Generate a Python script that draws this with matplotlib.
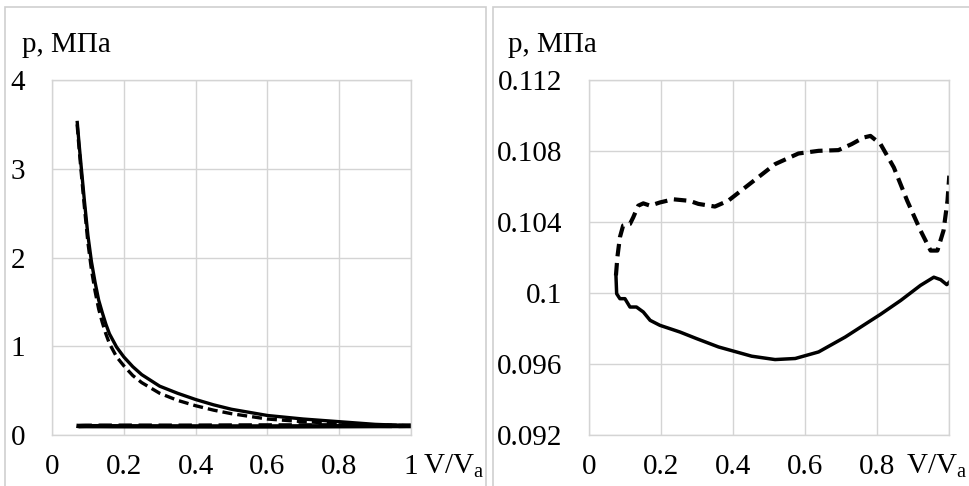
import matplotlib
matplotlib.use("Agg")
import matplotlib.pyplot as plt
from matplotlib.patches import Rectangle

plt.rcParams['font.family'] = ['Liberation Serif', 'DejaVu Serif']
plt.rcParams['mathtext.fontset'] = 'custom'
plt.rcParams['mathtext.rm'] = 'Liberation Serif'
plt.rcParams['mathtext.it'] = 'Liberation Serif:italic'

# ---- Left panel: full cycle (MPa) ----
v_high = [0.07, 0.075, 0.08, 0.09, 0.10, 0.11, 0.12, 0.13, 0.14, 0.15, 0.16, 0.18,
          0.20, 0.225, 0.25, 0.30, 0.35, 0.40, 0.45, 0.50, 0.60, 0.70, 0.80, 0.90, 1.00]
p_high_solid = [3.54, 3.30, 3.08, 2.65, 2.25, 1.95, 1.72, 1.52, 1.38, 1.25, 1.14, 0.99,
                0.88, 0.77, 0.68, 0.55, 0.47, 0.40, 0.34, 0.29, 0.22, 0.18, 0.15, 0.12, 0.105]
p_high_dashed = [3.50, 3.25, 3.02, 2.58, 2.17, 1.86, 1.62, 1.42, 1.27, 1.14, 1.03, 0.88,
                 0.78, 0.67, 0.59, 0.47, 0.39, 0.33, 0.28, 0.24, 0.18, 0.15, 0.13, 0.115, 0.105]

# ---- Right panel: low-pressure part (MPa) ----
v_low_dashed = [0.074, 0.078, 0.085, 0.094, 0.113, 0.122, 0.136, 0.150, 0.169, 0.196,
                0.233, 0.279, 0.303, 0.349, 0.386, 0.451, 0.516, 0.581, 0.637, 0.692,
                0.729, 0.762, 0.781, 0.809, 0.846, 0.883, 0.920, 0.948, 0.967, 0.984,
                0.995, 1.000]
p_low_dashed = [0.10099, 0.10202, 0.10314, 0.10380, 0.10389, 0.10426, 0.10492, 0.10505,
                0.10492, 0.10510, 0.10528, 0.10519, 0.10502, 0.10487, 0.10520, 0.10623,
                0.10726, 0.10786, 0.10801, 0.10805, 0.10839, 0.10876, 0.10885, 0.10839,
                0.10707, 0.10520, 0.10352, 0.10239, 0.10239, 0.10352, 0.10520, 0.10661]

v_low_solid = [0.074, 0.076, 0.085, 0.099, 0.113, 0.131, 0.150, 0.169, 0.196, 0.252,
               0.298, 0.359, 0.451, 0.516, 0.572, 0.637, 0.711, 0.776, 0.809, 0.865,
               0.920, 0.957, 0.976, 0.993, 1.000]
p_low_solid = [0.10099, 0.09996, 0.09968, 0.09968, 0.09921, 0.09921, 0.09893, 0.09846,
               0.09818, 0.09780, 0.09743, 0.09696, 0.09644, 0.09625, 0.09631, 0.09668,
               0.09752, 0.09837, 0.09880, 0.09958, 0.10043, 0.10089, 0.10075, 0.10047,
               0.10061]

left_yticks = [0, 1, 2, 3, 4]
right_yticks = [0.092, 0.096, 0.1, 0.104, 0.108, 0.112]
right_ylabels = ['0.092', '0.096', '0.1', '0.104', '0.108', '0.112']
xticks = [0, 0.2, 0.4, 0.6, 0.8, 1.0]
left_xlabels = ['0', '0.2', '0.4', '0.6', '0.8', '1']
right_xlabels = ['0', '0.2', '0.4', '0.6', '0.8', '']
ylab = 'p, МПа'
xlab = r'V/V$_\mathrm{a}$'

W, H = 970, 486
fig = plt.figure(figsize=(W / 100, H / 100), dpi=100)
fig.patch.set_facecolor('white')

# chart-area frames
for (x0, x1) in [(5, 486), (493, 980)]:
    fig.add_artist(Rectangle((x0 / W, -0.05), (x1 - x0) / W, (H - 7) / H + 0.05,
                             transform=fig.transFigure, fill=False,
                             edgecolor='#cfcfcf', linewidth=1.2))

grid_c = '#d4d4d4'
fs = 21

def style(ax):
    ax.grid(True, color=grid_c, linewidth=1.0)
    ax.set_axisbelow(True)
    for s in ax.spines.values():
        s.set_color(grid_c)
        s.set_linewidth(1.0)
    ax.tick_params(length=0, labelsize=fs)
    ax.tick_params(axis='y', pad=19.5)
    ax.tick_params(axis='x', pad=14)
    ax.set_xlim(0, 1)

bot = (H - 435) / H
hgt = (435 - 80) / H

ax1 = fig.add_axes([52 / W, bot, (411 - 52) / W, hgt])
style(ax1)
ax1.set_ylim(0, 4)
ax1.set_yticks(left_yticks)
ax1.set_xticks(xticks)
ax1.set_xticklabels(left_xlabels)
ax1.plot(v_high, p_high_solid, color='black', lw=2.4, solid_capstyle='butt')
ax1.plot(v_high, p_high_dashed, color='black', lw=2.4, dashes=(3, 1.5))
ax1.plot(v_low_solid, p_low_solid, color='black', lw=3.2)
ax1.plot(v_low_dashed, p_low_dashed, color='black', lw=3.2, dashes=(3, 1.5))
fig.text(22 / W, (H - 52) / H, ylab, fontsize=fs, ha='left', va='baseline')
fig.text(423 / W, (H - 474) / H, xlab, fontsize=fs, ha='left', va='baseline')

ax2 = fig.add_axes([589.3 / W, bot, (949.3 - 589.3) / W, hgt])
style(ax2)
ax2.set_ylim(0.092, 0.112)
ax2.set_yticks(right_yticks)
ax2.set_yticklabels(right_ylabels)
ax2.set_xticks(xticks)
ax2.set_xticklabels(right_xlabels)
ax2.plot(v_low_solid, p_low_solid, color='black', lw=2.5)
ax2.plot(v_low_dashed, p_low_dashed, color='black', lw=3.0, dashes=(3, 1.6))
fig.text(508 / W, (H - 52) / H, ylab, fontsize=fs, ha='left', va='baseline')
fig.text(906 / W, (H - 474) / H, xlab, fontsize=fs, ha='left', va='baseline')

fig.savefig('out.png', dpi=100)
